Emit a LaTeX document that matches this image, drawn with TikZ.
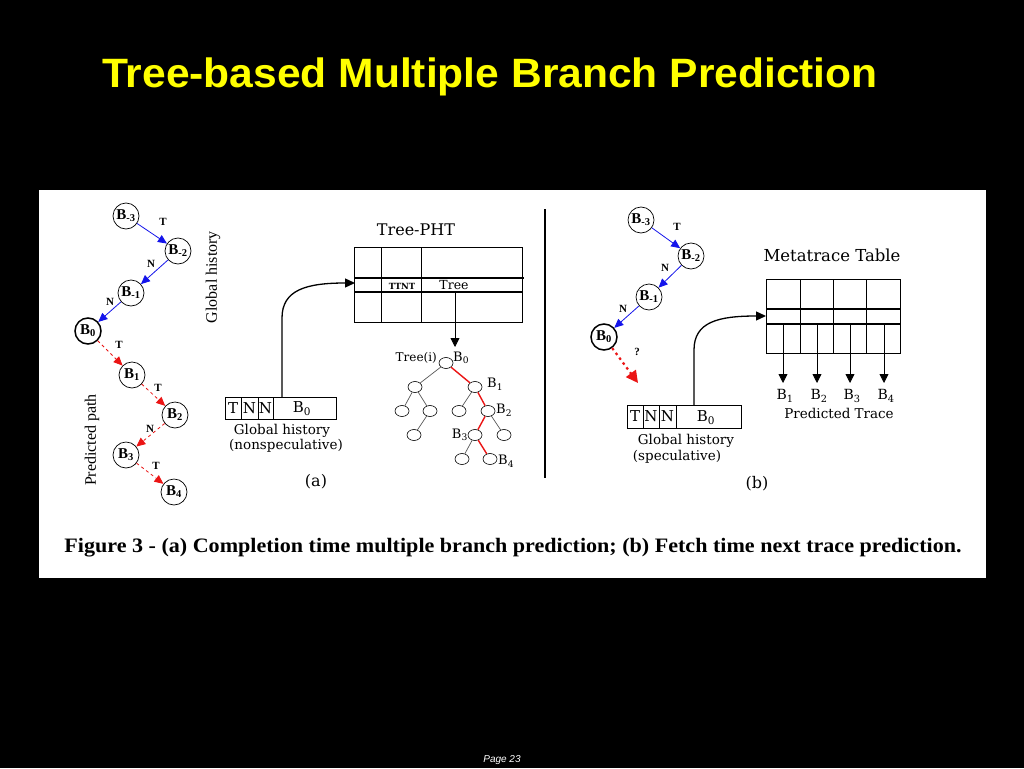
\documentclass[tikz,border=0pt]{standalone}
\usepackage{fontspec}
\setmainfont{Liberation Serif}
\newfontfamily\titlefont[FakeStretch=1.038]{Liberation Sans}
\newfontfamily\pagefont{Liberation Sans}
\newfontfamily\capfont[FakeStretch=1.077]{Liberation Serif}
\newfontfamily\dfont{DejaVu Serif}
\usetikzlibrary{arrows.meta,shapes.geometric}
\definecolor{arrblue}{RGB}{20,20,235}
\definecolor{arrred}{RGB}{235,20,20}
\definecolor{titleyellow}{RGB}{255,255,0}
\tikzset{
  bnode/.style={circle, draw, line width=0.7pt, minimum size=26, inner sep=0pt, font=\bfseries\fontsize{15}{15}\selectfont},
  bzero/.style={bnode, line width=1.5pt},
  elab/.style={font=\bfseries\fontsize{11}{11}\selectfont, inner sep=0pt},
  bluearr/.style={arrblue, line width=0.8pt, -{Triangle[length=9pt,width=8pt]}},
  redarr/.style={arrred, line width=0.8pt, dashed, -{Triangle[length=9pt,width=8pt]}},
  tn/.style={ellipse, draw, line width=0.6pt, minimum width=14, minimum height=11, inner sep=0pt},
  tedge/.style={draw=black!65, line width=0.7pt},
  tred/.style={draw=arrred, line width=1.4pt},
  dtxt/.style={font=\dfont\fontsize{13.5}{13.5}\selectfont, inner sep=0pt},
  blackarr/.style={line width=1.3pt, -{Triangle[length=10pt,width=9pt]}},
  tbl/.style={line width=0.8pt},
}
\begin{document}
\begin{tikzpicture}[x=1pt,y=-1pt]
\fill[black] (0,0) rectangle (1024,768);
\useasboundingbox (0,0) rectangle (1024,768);
\fill[white] (39,190) rectangle (986,578);

% title
\node[font=\titlefont\bfseries\fontsize{41}{41}\selectfont, text=titleyellow, inner sep=0pt] (title) at (490,77) {Tree-based Multiple Branch Prediction};
% page
\node[font=\pagefont\itshape\fontsize{10}{10}\selectfont, text=white, inner sep=0pt] (page) at (502,760) {Page 23};

% ---------- left chain ----------
\node[bnode] (lm3) at (126,216) {B\textsubscript{-3}};
\node[bnode] (lm2) at (178,251) {B\textsubscript{-2}};
\node[bnode] (lm1) at (131,293) {B\textsubscript{-1}};
\node[bzero] (l0) at (88,331) {B\textsubscript{0}};
\node[bnode] (l1) at (132,375) {B\textsubscript{1}};
\node[bnode] (l2) at (175,415) {B\textsubscript{2}};
\node[bnode] (l3) at (126,455) {B\textsubscript{3}};
\node[bnode] (l4) at (174,492) {B\textsubscript{4}};
\draw[bluearr] (lm3) -- (lm2);
\draw[bluearr] (lm2) -- (lm1);
\draw[bluearr] (lm1) -- (l0);
\draw[redarr] (l0) -- (l1);
\draw[redarr] (l1) -- (l2);
\draw[redarr] (l2) -- (l3);
\draw[redarr] (l3) -- (l4);
\node[elab] (lt1) at (163,222) {T};
\node[elab] (ln1) at (151,264) {N};
\node[elab] (ln2) at (110,302) {N};
\node[elab] (lt2) at (119,345) {T};
\node[elab] (lt3) at (158,388) {T};
\node[elab] (ln3) at (150,429) {N};
\node[elab] (lt4) at (156,466) {T};
\node[font=\fontsize{16}{16}\selectfont, rotate=90, inner sep=0pt] (ghlab) at (213,277) {Global history};
\node[font=\fontsize{16}{16}\selectfont, rotate=90, inner sep=0pt] (pplab) at (92,440) {Predicted path};

% ---------- Tree-PHT ----------
\node[dtxt, font=\dfont\fontsize{16}{16}\selectfont] (phttitle) at (416,230) {Tree-PHT};
\node[draw, tbl, anchor=north west, minimum width=168, minimum height=75, inner sep=0pt] (pht) at (354,247) {};
\draw[tbl] (381,247) -- (381,322);
\draw[tbl] (421,247) -- (421,322);
\draw[line width=1.3pt] (354,278) -- (524,278);
\draw[line width=1.3pt] (354,292) -- (522,292);
\node[font=\dfont\bfseries\fontsize{8.5}{8.5}\selectfont, inner sep=0pt] (ttnt) at (402,286) {TTNT};
\node[dtxt, font=\dfont\fontsize{12.5}{12.5}\selectfont] (treecell) at (454,285) {Tree};
\coordinate (treeout) at (455,292);
\coordinate (treein) at (455,347);
\draw[line width=0.8pt, -{Triangle[length=9pt,width=9pt]}] (treeout) -- (treein);

% global history (a)
\node[draw, tbl, anchor=north west, minimum width=111, minimum height=22, inner sep=0pt] (gha) at (225,397) {};
\draw[tbl] (241,397) -- (241,419);
\draw[tbl] (258,397) -- (258,419);
\draw[tbl] (273,397) -- (273,419);
\node[dtxt, font=\dfont\fontsize{15}{15}\selectfont] (gha1) at (233,408) {T};
\node[dtxt, font=\dfont\fontsize{15}{15}\selectfont] (gha2) at (249.5,408) {N};
\node[dtxt, font=\dfont\fontsize{15}{15}\selectfont] (gha3) at (265.5,408) {N};
\node[dtxt, font=\dfont\fontsize{15}{15}\selectfont] (gha4) at (302,409) {B\textsubscript{0}};
\node[dtxt] (ghat1) at (282,431) {Global history};
\node[dtxt] (ghat2) at (286,446) {(nonspeculative)};
\node[dtxt, font=\dfont\fontsize{16}{16}\selectfont] (alab) at (316,482) {(a)};
\coordinate (ghaout) at (282,397);
\coordinate (phtin) at (355,283);
\draw[blackarr] (ghaout) -- (282,318) .. controls (282,290) and (306,283) .. (phtin);

% tree
\node[tn] (r) at (446,363) {};
\node[tn] (a1) at (415,387) {};
\node[tn] (a2) at (475,387) {};
\node[tn] (b1) at (402,411) {};
\node[tn] (b2) at (430,411) {};
\node[tn] (b3) at (459,411) {};
\node[tn] (b4) at (488,411) {};
\node[tn] (c1) at (414,435) {};
\node[tn] (c2) at (475,435) {};
\node[tn] (c3) at (504,435) {};
\node[tn] (d1) at (462,459) {};
\node[tn] (d2) at (490,459) {};
\draw[tedge] (r) -- (a1);
\draw[tedge] (a1) -- (b1);
\draw[tedge] (a1) -- (b2);
\draw[tedge] (b2) -- (c1);
\draw[tedge] (a2) -- (b3);
\draw[tedge] (b4) -- (c3);
\draw[tedge] (c2) -- (d1);
\draw[tred] (r) -- (a2);
\draw[tred] (a2) -- (b4);
\draw[tred] (b4) -- (c2);
\draw[tred] (c2) -- (d2);
\node[dtxt, font=\dfont\fontsize{12}{12}\selectfont, anchor=east] (treei) at (437,358) {Tree(i)};
\node[dtxt, font=\dfont\fontsize{13}{13}\selectfont, anchor=west] (tb0) at (453,358) {B\textsubscript{0}};
\node[dtxt, font=\dfont\fontsize{13}{13}\selectfont, anchor=west] (tb1) at (487,384) {B\textsubscript{1}};
\node[dtxt, font=\dfont\fontsize{13}{13}\selectfont, anchor=west] (tb2) at (496,410) {B\textsubscript{2}};
\node[dtxt, font=\dfont\fontsize{13}{13}\selectfont, anchor=east] (tb3) at (468,435) {B\textsubscript{3}};
\node[dtxt, font=\dfont\fontsize{13}{13}\selectfont, anchor=west] (tb4) at (498,461) {B\textsubscript{4}};

% divider
\coordinate (divtop) at (545,209);
\coordinate (divbot) at (545,478);
\draw[line width=1.8pt] (divtop) -- (divbot);

% ---------- right chain ----------
\node[bnode] (rm3) at (641,220) {B\textsubscript{-3}};
\node[bnode] (rm2) at (691,256) {B\textsubscript{-2}};
\node[bnode] (rm1) at (649,297) {B\textsubscript{-1}};
\node[bzero] (r0) at (604,337) {B\textsubscript{0}};
\draw[bluearr] (rm3) -- (rm2);
\draw[bluearr] (rm2) -- (rm1);
\draw[bluearr] (rm1) -- (r0);
\node[elab] (rt1) at (677,227) {T};
\node[elab] (rn1) at (665,268) {N};
\node[elab] (rn2) at (623,309) {N};
\node[elab] (rq) at (637,352) {?};
\coordinate (rtip) at (638,383);
\draw[arrred, line width=2.2pt, dash pattern=on 2.5pt off 3.5pt, -{Triangle[length=12pt,width=12pt]}] (r0) -- (rtip);

% global history (b)
\node[draw, tbl, anchor=north west, minimum width=114, minimum height=23, inner sep=0pt] (ghb) at (627,405) {};
\draw[tbl] (643,405) -- (643,428);
\draw[tbl] (659,405) -- (659,428);
\draw[tbl] (676,405) -- (676,428);
\node[dtxt, font=\dfont\fontsize{15}{15}\selectfont] (ghb1) at (635,416.5) {T};
\node[dtxt, font=\dfont\fontsize{15}{15}\selectfont] (ghb2) at (651,416.5) {N};
\node[dtxt, font=\dfont\fontsize{15}{15}\selectfont] (ghb3) at (667.5,416.5) {N};
\node[dtxt, font=\dfont\fontsize{15}{15}\selectfont] (ghb4) at (706,417.5) {B\textsubscript{0}};
\node[dtxt] (ghbt1) at (686,441) {Global history};
\node[dtxt] (ghbt2) at (677,457) {(speculative)};
\node[dtxt, font=\dfont\fontsize{16}{16}\selectfont] (blab) at (757,484) {(b)};
\coordinate (ghbout) at (694,405);
\coordinate (mtin) at (766,316);
\draw[blackarr] (ghbout) -- (694,350) .. controls (694,322) and (718,316) .. (mtin);

% Metatrace table
\node[dtxt, font=\dfont\fontsize{16.5}{16.5}\selectfont] (mttitle) at (832,255) {Metatrace Table};
\node[draw, tbl, anchor=north west, minimum width=134, minimum height=74, inner sep=0pt] (mt) at (766,279) {};
\draw[tbl] (800,279) -- (800,353);
\draw[tbl] (833,279) -- (833,353);
\draw[tbl] (866,279) -- (866,353);
\draw[line width=1.1pt] (766,309) -- (900,309);
\draw[line width=1.6pt] (766,324) -- (900,324);
\foreach \xx/\nm in {783/1,817/2,850/3,884/4}{
  \coordinate (mo\nm) at (\xx,324);
  \coordinate (mi\nm) at (\xx,383);
  \draw[line width=0.8pt, -{Triangle[length=9pt,width=9pt]}] (mo\nm) -- (mi\nm);
  \node[dtxt, font=\dfont\fontsize{14}{14}\selectfont] (mb\nm) at (\xx+2,396) {B\textsubscript{\nm}};
}
\node[dtxt] (ptrace) at (839,413) {Predicted Trace};

% caption
\node[font=\capfont\bfseries\fontsize{20.5}{20.5}\selectfont, inner sep=0pt] (caption) at (513,548) {Figure 3 - (a) Completion time multiple branch prediction; (b) Fetch time next trace prediction.};
\end{tikzpicture}
\end{document}
